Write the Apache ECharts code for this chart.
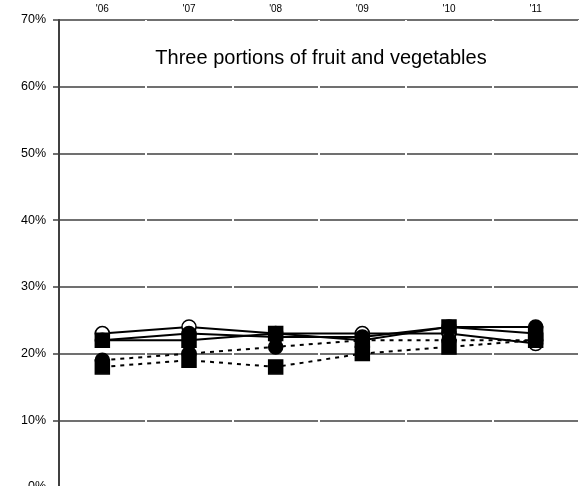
<!DOCTYPE html>
<html>
<head>
<meta charset="utf-8">
<script src="https://cdn.jsdelivr.net/npm/echarts@6/dist/echarts.min.js"></script>
<style>
  html, body { margin: 0; padding: 0; background: #fff; }
  #chart { width: 582px; height: 486px; }
</style>
</head>
<body>
<div id="chart"></div>
<script>
var years = ["'06", "'07", "'08", "'09", "'10", "'11"];
var yTicks = [0, 10, 20, 30, 40, 50, 60, 70];
var openCircle = [23, 24, 23, 23, 23, 21.5];
var filledCircle = [22, 23, 22.5, 22.5, 24, 24];
var filledSquare = [22, 22, 23, 22, 24, 23];
var dashCircle = [19, 20, 21, 22, 22, 22];
var dashSquare = [18, 19, 18, 20, 21, 22];

function line(name, data, symbol, filled, dashed) {
  return {
    name: name,
    type: 'line',
    data: data,
    symbol: symbol,
    symbolSize: 14,
    showSymbol: true,
    animation: false,
    lineStyle: { color: '#000', width: 2, type: dashed ? [4, 5] : 'solid' },
    itemStyle: { color: filled ? '#000' : '#fff', borderColor: '#000', borderWidth: 1.5 }
  };
}

var chart = echarts.init(document.getElementById('chart'));
chart.setOption({
  animation: false,
  textStyle: { fontFamily: 'Liberation Sans, Arial, sans-serif' },
  title: {
    text: 'Three portions of fruit and vegetables',
    left: 316, top: 43, textAlign: 'center',
    textStyle: { fontSize: 20, fontWeight: 'normal', color: '#000', fontFamily: 'Liberation Sans, Arial, sans-serif' }
  },
  grid: { left: 59, right: 3, top: 20, bottom: -1, outerBoundsMode: 'none', containLabel: false },
  xAxis: {
    type: 'category',
    position: 'top',
    data: years,
    z: 1,
    axisLine: { show: false },
    axisTick: { show: false },
    axisLabel: { color: '#000', fontSize: 10, margin: 6 },
    splitLine: { show: true, interval: function (i) { return i > 0; }, lineStyle: { color: '#fff', width: 2 } }
  },
  yAxis: {
    type: 'value',
    min: yTicks[0], max: yTicks[yTicks.length - 1], interval: 10,
    axisLine: { show: true, lineStyle: { color: '#404040', width: 2 } },
    axisTick: { show: true, length: 6, lineStyle: { color: '#404040', width: 1.5 } },
    axisLabel: { color: '#000', fontSize: 12.5, margin: 13, formatter: '{value}%' },
    splitLine: { show: true, lineStyle: { color: '#404040', width: 1.5 } }
  },
  series: [
    line('a', openCircle, 'circle', false, false),
    line('b', filledCircle, 'circle', true, false),
    line('c', filledSquare, 'rect', true, false),
    line('d', dashCircle, 'circle', true, true),
    line('e', dashSquare, 'rect', true, true)
  ]
});
</script>
</body>
</html>
